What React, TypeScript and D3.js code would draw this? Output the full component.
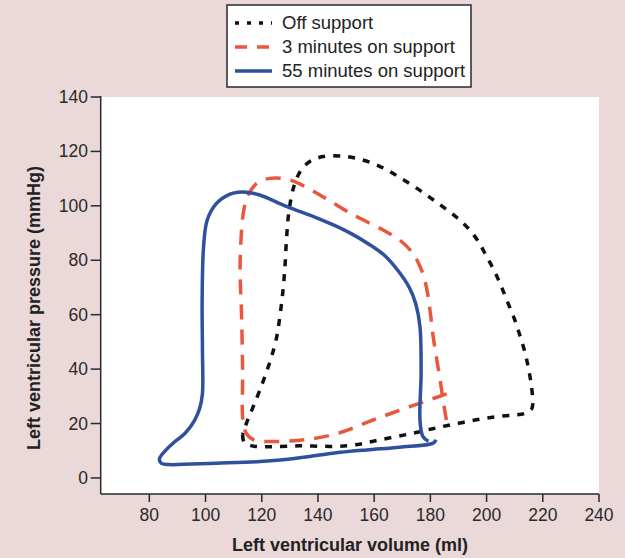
import React from "react";
import * as d3 from "d3";

const volumeTicks = [80, 100, 120, 140, 160, 180, 200, 220, 240];
const pressureTicks = [0, 20, 40, 60, 80, 100, 120, 140];

const seriesNames = ["Off support", "3 minutes on support", "55 minutes on support"];

// [volume (ml), pressure (mmHg)]
const offSupport: [number, number][] = [
  [113.2, 16], [113.7, 13.2], [116.5, 11.8], [122.9, 11.5], [133.6, 11.8], [145.3, 11.6],
  [151.3, 11.9], [156.7, 12.8], [162, 14], [168.5, 15.3], [174.5, 16.6], [180.4, 18],
  [185.7, 19.2], [191.6, 20.4], [197.6, 21.6], [203.5, 22.5], [209.4, 23.1], [213.5, 23.7],
  [216.1, 25.5], [216.4, 28.5], [215.9, 34.2], [214.9, 40.3], [213.6, 46.4], [211.8, 52.5],
  [210, 58.2], [207.6, 64.3], [205.3, 70.2], [202.9, 75.8], [199.9, 81.6], [197, 87],
  [193.4, 91.8], [189.3, 95.8], [184.5, 99.6], [179.8, 103.1], [174.5, 106.9], [169.1, 110.4],
  [164.4, 113.3], [159.1, 115.8], [153.1, 117.6], [147.8, 118.3], [141.8, 118.1], [137.1, 116.3],
  [133.8, 112.8], [131.4, 107], [129.6, 97.3], [128.8, 87.5], [128.1, 75.2], [126.9, 62.9],
  [125.1, 50.7], [123.3, 44], [121.3, 37.8], [119.1, 31.7], [116.9, 26], [114.8, 20.8],
  [113.2, 16],
];

const threeMinutes: [number, number][] = [
  [185.8, 30.9], [172.7, 26.2], [159.6, 21.3], [147.8, 16.6], [135.9, 14.1], [124.1, 13.4],
  [117.2, 14], [114.5, 16.4], [113.3, 21.3], [113.2, 38.6], [112.8, 60.6], [112.3, 75.3],
  [112.5, 85], [113.4, 97], [114.9, 103.4], [118.3, 108.3], [122.9, 110.1], [130, 109.5],
  [140.7, 104], [151.3, 97.4], [163.2, 91.1], [169, 87.5], [173.8, 82.5], [177, 76],
  [178.9, 68.5], [180, 60.5], [181, 52], [182.2, 44], [183.4, 36.5], [184.5, 28.7], [185.7, 21.3],
];

const fiftyFiveMinutes: [number, number][] = [
  [179.3, 13.5], [177.3, 15.3], [176.3, 21.3], [176.7, 38.6], [176.3, 55.6], [174.8, 64],
  [172.5, 70], [169, 75.5], [164, 81.5], [158, 86], [152, 89.7], [145.5, 93], [139.3, 95.7],
  [128.8, 99.8], [119.3, 104], [114.6, 105], [111.5, 105], [108.5, 104.2], [103.9, 100.9],
  [100.6, 94.8], [99.3, 85], [98.8, 65.4], [98.9, 47], [98.9, 31], [97.9, 25.5], [96, 21],
  [92.8, 16.5], [88.5, 12.8], [85.5, 9.8], [83.6, 7], [84.2, 5.4], [87, 4.9], [92, 5],
  [103.9, 5.4], [119.3, 6.0], [127.5, 6.7], [137.1, 7.9], [145.3, 9.1], [157.3, 10.3],
  [169.1, 11.3], [181, 12.8], [182, 14],
];

const colors = ["#111111", "#e9573f", "#2f4f9f"];
const dashes = ["7,8", "15,10", ""];
const legendDashes = ["4,8", "12,10", ""];

export default function App() {
  const W = 625;
  const H = 558;
  const x = d3.scaleLinear().domain([62.7, 240]).range([100.7, 599]);
  const y = d3.scaleLinear().domain([-5.9, 140]).range([494, 97]);
  const line = d3
    .line<[number, number]>()
    .x((d) => x(d[0]))
    .y((d) => y(d[1]))
    .curve(d3.curveCatmullRom.alpha(0.5));

  const series = [offSupport, threeMinutes, fiftyFiveMinutes];
  const font = "'Liberation Sans', Arial, Helvetica, sans-serif";
  const axisColor = "#2a2a2a";
  const x0 = x.range()[0];
  const x1 = x.range()[1];
  const yBottom = y.range()[0];
  const yTop = y.range()[1];

  return (
    <svg
      width={W}
      height={H}
      style={{ position: "absolute", left: 0, top: 0, display: "block" }}
      fontFamily={font}
    >
      <rect x={0} y={0} width={W} height={H} fill="#ebd8d8" />
      <rect x={x0} y={yTop} width={x1 - x0} height={yBottom - yTop} fill="#ffffff" />

      {series.map((s, i) => (
        <path
          key={i}
          d={line(s) || ""}
          fill="none"
          stroke={colors[i]}
          strokeWidth={3.5}
          strokeDasharray={dashes[i] || undefined}
          strokeLinecap="butt"
          strokeLinejoin="round"
        />
      ))}

      {/* axes */}
      <line x1={x0} x2={x0} y1={yTop - 1} y2={yBottom} stroke={axisColor} strokeWidth={1.5} />
      <line x1={x0} x2={x1} y1={yBottom} y2={yBottom} stroke={axisColor} strokeWidth={1.5} />
      {volumeTicks.map((t) => (
        <g key={"x" + t}>
          <line x1={x(t)} x2={x(t)} y1={yBottom} y2={yBottom + 8} stroke={axisColor} strokeWidth={1.5} />
          <text x={x(t)} y={521} textAnchor="middle" fontSize={17.5} fill="#2a2a2a">
            {t}
          </text>
        </g>
      ))}
      {pressureTicks.map((t) => (
        <g key={"y" + t}>
          <line x1={x0 - 10} x2={x0} y1={y(t)} y2={y(t)} stroke={axisColor} strokeWidth={1.5} />
          <text x={88} y={y(t) + 6} textAnchor="end" fontSize={17.5} fill="#2a2a2a">
            {t}
          </text>
        </g>
      ))}
      <text x={350} y={551} textAnchor="middle" fontSize={18} fontWeight="bold" fill="#222">
        Left ventricular volume (ml)
      </text>
      <text
        transform="translate(40,308) rotate(-90)"
        textAnchor="middle"
        fontSize={18}
        fontWeight="bold"
        fill="#222"
      >
        Left ventricular pressure (mmHg)
      </text>

      {/* legend */}
      <rect x={227} y={5} width={244} height={82} fill="#ffffff" stroke="#2a2a2a" strokeWidth={1.5} />
      {seriesNames.map((name, i) => (
        <g key={name}>
          <line
            x1={235}
            x2={272}
            y1={23 + i * 24}
            y2={23 + i * 24}
            stroke={colors[i]}
            strokeWidth={3.5}
            strokeDasharray={legendDashes[i] || undefined}
          />
          <text x={282} y={29 + i * 24} fontSize={18.5} fill="#222">
            {name}
          </text>
        </g>
      ))}
    </svg>
  );
}
